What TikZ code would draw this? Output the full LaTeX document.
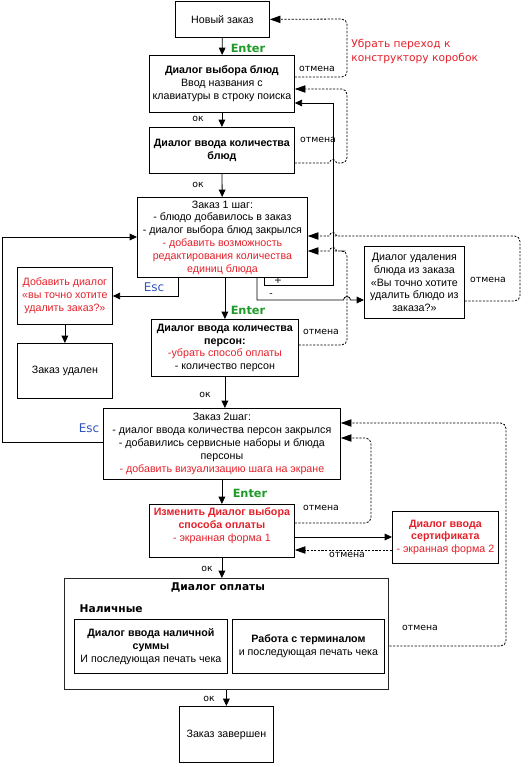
\documentclass[tikz,border=0pt]{standalone}
\usepackage{fontspec}
\setmainfont{Liberation Sans}
\newfontfamily\comic{DejaVu Sans}
\usepackage{xcolor}
\usepackage{tikz}
\usetikzlibrary{arrows.meta}
\definecolor{ored}{HTML}{E4202A}
\definecolor{ogreen}{HTML}{1E9A28}
\definecolor{oblue}{HTML}{2F55B8}
\newcommand{\rd}[1]{\textcolor{ored}{#1}}
\tikzset{
  obox/.style={draw, align=center, inner sep=2pt, anchor=north west,
               font=\fontsize{8}{9.6}\selectfont},
  osz/.style 2 args={minimum width=#1*0.75pt, minimum height=#2*0.75pt},
  oarr/.style={-{Triangle[length=5.5pt, width=5pt]}},
  odash/.style={dash pattern=on 1.6pt off 1.1pt,
                -{Triangle[length=8pt, width=5.5pt]}},
  olab/.style={font=\comic\fontsize{7}{8}\selectfont, inner sep=1pt},
  okey/.style={font=\comic\bfseries\fontsize{8.5}{10}\selectfont, inner sep=1pt},
  ohead/.style={font=\comic\bfseries\fontsize{8}{9}\selectfont, inner sep=1pt},
}

\begin{document}
\begin{tikzpicture}[x=0.75pt, y=-0.75pt, semithick]
\useasboundingbox (0,0) rectangle (530,767);
% main column
\node[obox, osz={94}{36}] (neworder) at (175,1) {Новый заказ};
\node[obox, osz={145}{57}] (pick) at (149,55)
  {\textbf{Диалог выбора блюд}\\Ввод названия с\\клавиатуры в строку поиска};
\node[obox, osz={145}{46}] (qty) at (149,127)
  {\textbf{Диалог ввода количества}\\\textbf{блюд}};
\node[obox, osz={170}{80}] (step1) at (137,197)
  {Заказ 1 шаг:\\- блюдо добавилось в заказ\\- диалог выбора блюд закрылся\\
   \rd{- добавить возможность}\\\rd{редактирования количества}\\\rd{единиц блюда}};
\node[obox, osz={95}{57}, text=ored] (askdel) at (17,267)
  {Добавить диалог\\«вы точно хотите\\удалить заказ?»};
\node[obox, osz={95}{55}] (deleted) at (17,343) {Заказ удален};
\node[obox, osz={147}{57}] (persons) at (151,319)
  {\textbf{Диалог ввода количества}\\\textbf{персон:}\\
   \rd{-убрать способ оплаты}\\- количество персон};
\node[obox, osz={100}{72}] (deldish) at (364,246)
  {Диалог удаления\\блюда из заказа\\«Вы точно хотите\\удалить блюдо из\\заказа?»};
\node[obox, osz={237}{71}] (step2) at (103,408)
  {Заказ 2шаг:\\- диалог ввода количества персон закрылся\\
   - добавились сервисные наборы и блюда\\персоны\\
   \rd{- добавить визуализацию шага на экране}};
\node[obox, osz={145}{53}, text=ored] (paysel) at (149,504)
  {\textbf{Изменить Диалог выбора}\\\textbf{способа оплаты}\\- экранная форма 1\\ \mbox{}};
\node[obox, osz={106}{52}, text=ored] (cert) at (392,511)
  {\textbf{Диалог ввода}\\\textbf{сертификата}\\- экранная форма 2};
\node[obox, osz={324}{111}, line width=1.1pt, draw=black!85] (payframe) at (64,578) {};
\node[ohead] (paytitle) at (218,587) {Диалог оплаты};
\node[ohead, anchor=west] (cashhead) at (78,609) {Наличные};
\node[obox, osz={153}{54}] (cash) at (74,619)
  {\textbf{Диалог ввода наличной}\\\textbf{суммы}\\И последующая печать чека};
\node[obox, osz={152}{54}] (term) at (232,619)
  {\textbf{Работа с терминалом}\\и последующая печать чека};
\node[obox, osz={94}{56}] (done) at (179,706) {Заказ завершен};

% key and button labels
\node[okey, text=ogreen] (enter1) at (248,48) {Enter};
\node[okey, text=ogreen] (enter2) at (248,310) {Enter};
\node[okey, text=ogreen] (enter3) at (250,493) {Enter};
\node[okey, text=oblue, font=\comic\fontsize{9}{10}\selectfont] (esc1) at (154,287) {Esc};
\node[okey, text=oblue, font=\comic\fontsize{9}{10}\selectfont] (esc2) at (89,428) {Esc};
\node[olab] (ok1) at (198,119) {ок};
\node[olab] (ok2) at (198,185) {ок};
\node[olab] (ok3) at (205,395) {ок};
\node[olab] (ok4) at (207,569) {ок};
\node[olab] (ok5) at (209,699) {ок};
\node[olab] (plus) at (278,281) {+};
\node[olab] (minus) at (271,295) {-};
\node[olab] (cancel1) at (317,69) {отмена};
\node[olab] (cancel2) at (318,140) {отмена};
\node[olab] (cancel3) at (321,332) {отмена};
\node[olab] (cancel4) at (488,280) {отмена};
\node[olab] (cancel5) at (321,508) {отмена};
\node[olab] (cancel6) at (347,555) {отмена};
\node[olab] (cancel7) at (420,628) {отмена};
\node[font=\comic\fontsize{8}{10.5}\selectfont, text=ored, align=left,
      anchor=north west, inner sep=0pt] (note) at (351,39)
  {Убрать переход к\\конструктору коробок};

% forward flow
\draw[oarr] (neworder) -- (pick);
\draw[oarr] (pick) -- (qty);
\draw[oarr] (qty) -- (step1);
\draw[oarr] (persons.north |- step1.south) -- (persons.north);
\draw[oarr] (persons.south) -- (persons.south |- step2.north);
\draw[oarr] (step2) -- (paysel);
\draw[oarr] (paysel.south) -- (paysel.south |- payframe.north);
\draw[oarr] (done.north |- payframe.south) -- (done.north);
\draw[oarr] (askdel) -- (deleted);
\draw[oarr] (step1.south -| 178,0) |- (askdel.east |- 0,296);
\draw[oarr] (step2.west |- 0,442) -| (2,237) -- (step1.west |- 0,237);
\draw[oarr] (step1.south -| 264,0) |- (333,285) |- (pick.east |- 0,103);
\draw[oarr] (step1.south -| 257,0) |- (343.5,300) arc (180:360:3.5)
  -- (deldish.west |- 0,300);
\draw[oarr] (paysel.east |- 0,537) -- (cert.west |- 0,537);

% cancel paths
\draw[odash, rounded corners=4pt] (pick.east |- 0,77) -- (347,77) -- (347,19)
  -- (neworder.east);
\draw[odash] (qty.east |- 0,163) -- (329.5,163) arc (180:360:3.5) -- (338,163)
  [rounded corners=4pt] -- (347,163) -- (347,89) -- (pick.east |- 0,89);
\draw[odash] (deldish.east |- 0,301) [rounded corners=4pt] -- (520,301)
  -- (520,236) -- (340,236) [sharp corners] -- (336.5,236) arc (0:-180:3.5)
  -- (step1.east |- 0,236);
\draw[odash] (persons.east |- 0,345) [rounded corners=4pt] -- (347,345)
  -- (347,251) -- (340,251) [sharp corners] -- (336.5,251) arc (0:-180:3.5)
  -- (step1.east |- 0,251);
\draw[odash, rounded corners=4pt] (paysel.east |- 0,523) -- (371,523) -- (371,438)
  -- (step2.east |- 0,438);
\draw[odash] (cert.west |- 0,550) -- (paysel.east |- 0,550);
\draw[odash, rounded corners=4pt] (payframe.east |- 0,646) -- (506,646) -- (506,423)
  -- (step2.east |- 0,423);
\end{tikzpicture}
\end{document}
